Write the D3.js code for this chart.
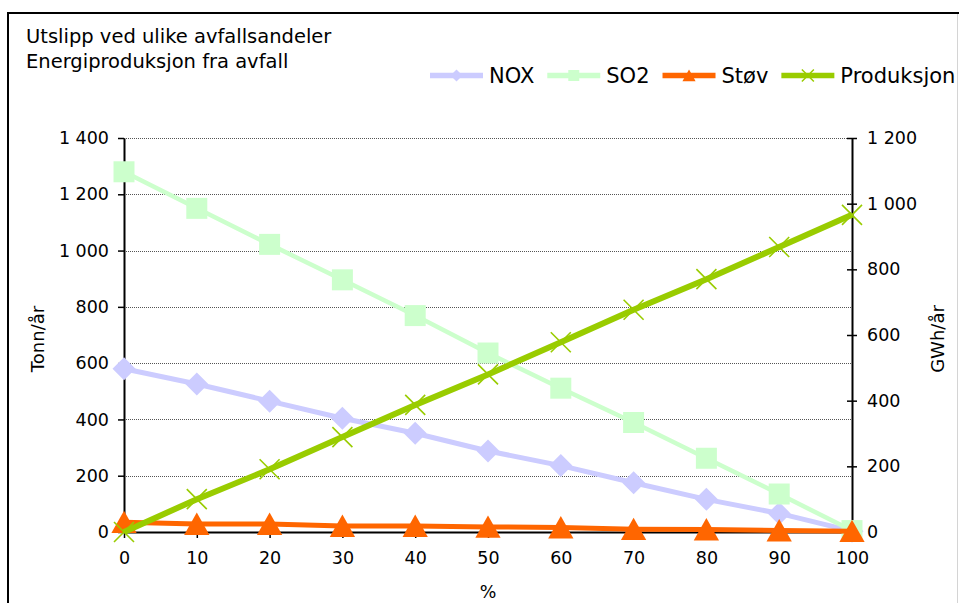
<!DOCTYPE html>
<html>
<head>
<meta charset="utf-8">
<script src="https://cdn.jsdelivr.net/npm/d3@7"></script>
<style>
  html, body { margin: 0; padding: 0; background: #fff; }
  svg { display: block; font-family: "DejaVu Sans", Verdana, sans-serif; }
</style>
</head>
<body>
<svg id="chart" width="959" height="603"></svg>
<script>
// ---- data ----
const categories = [0, 10, 20, 30, 40, 50, 60, 70, 80, 90, 100];
const nox = [580, 526, 465, 404, 351, 288, 236, 175, 116, 66, 3];
const so2 = [1280, 1150, 1022, 896, 769, 636, 511, 389, 262, 135, 5];
const stov = [35, 28, 28, 21, 21, 18, 16, 10, 9, 5, 3];
const produksjon = [0, 100, 191, 289, 387, 480, 578, 677, 770, 868, 966];
const leftTicks = [0, 200, 400, 600, 800, 1000, 1200, 1400];
const rightTicks = [0, 200, 400, 600, 800, 1000, 1200];
const seriesNames = ["NOX", "SO2", "Støv", "Produksjon"];
const titleLines = ["Utslipp ved ulike avfallsandeler", "Energiproduksjon fra avfall"];

// ---- layout ----
const svg = d3.select("#chart");
const plot = { left: 124, right: 852, top: 138, bottom: 532 };
const x = d3.scaleLinear().domain([0, 100]).range([plot.left, plot.right]);
const yL = d3.scaleLinear().domain([0, 1400]).range([plot.bottom, plot.top]);
const yR = d3.scaleLinear().domain([0, 1200]).range([plot.bottom, plot.top]);
const fmt = v => d3.format(",")(v).replace(/,/g, " ");

// outer frame
svg.append("rect").attr("x", 8).attr("y", 13).attr("width", 1000).attr("height", 700)
  .attr("fill", "#fff").attr("stroke", "#000").attr("stroke-width", 2);
svg.append("line").attr("x1", 957.5).attr("x2", 957.5).attr("y1", 14).attr("y2", 603)
  .attr("stroke", "#d4d4d4").attr("stroke-width", 1);

// title
svg.append("g").selectAll("text").data(titleLines).join("text")
  .attr("x", 26).attr("y", (d, i) => 43 + i * 25)
  .attr("font-size", 19.5).attr("fill", "#000").text(d => d);

// gridlines
svg.append("g").selectAll("line").data(leftTicks.filter(t => t > 0)).join("line")
  .attr("x1", plot.left).attr("x2", plot.right)
  .attr("y1", d => Math.round(yL(d)) + 0.5).attr("y2", d => Math.round(yL(d)) + 0.5)
  .attr("stroke", "#555").attr("stroke-width", 1).attr("stroke-dasharray", "1,1");

// axes
const styleAxis = (g, size) => {
  g.selectAll(".domain").attr("stroke", "#000").attr("stroke-width", 2);
  g.selectAll(".tick line").attr("stroke", "#000").attr("stroke-width", 1.5);
  g.selectAll(".tick text").attr("font-size", size).attr("fill", "#000")
    .attr("font-family", "'DejaVu Sans', Verdana, sans-serif");
};
svg.append("g").attr("transform", `translate(0,${plot.bottom})`)
  .call(d3.axisBottom(x).tickValues(categories).tickFormat(d => d).tickSize(6).tickSizeOuter(0).tickPadding(14))
  .call(g => styleAxis(g, 17.5));
svg.append("g").attr("transform", `translate(${plot.left},0)`)
  .call(d3.axisLeft(yL).tickValues(leftTicks).tickFormat(fmt).tickSize(6).tickSizeOuter(0).tickPadding(9))
  .call(g => styleAxis(g, 17.5));
const rAxis = svg.append("g").attr("transform", `translate(${plot.right},0)`)
  .call(d3.axisRight(yR).tickValues(rightTicks).tickFormat(fmt).tickSize(5).tickSizeOuter(0).tickPadding(10))
  .call(g => styleAxis(g, 17.5));
rAxis.selectAll(".tick line").attr("x1", -5);

// axis titles
svg.append("text").attr("transform", `translate(44,${(plot.top + plot.bottom) / 2 + 4}) rotate(-90)`)
  .attr("text-anchor", "middle").attr("font-size", 18).text("Tonn/år");
svg.append("text").attr("transform", `translate(944,${(plot.top + plot.bottom) / 2 + 4}) rotate(-90)`)
  .attr("text-anchor", "middle").attr("font-size", 18).text("GWh/år");
svg.append("text").attr("x", (plot.left + plot.right) / 2).attr("y", 598)
  .attr("text-anchor", "middle").attr("font-size", 17.5).text("%");

// marker shapes
const shapes = {
  diamond: s => `M0,${-s}L${s},0L0,${s}L${-s},0Z`,
  square: s => `M${-s},${-s}H${s}V${s}H${-s}Z`,
  triangle: s => `M0,${-s}L${s * 1.1},${s * 0.95}L${-s * 1.1},${s * 0.95}Z`,
  cross: s => `M${-s},${-s}L${s},${s}M${s},${-s}L${-s},${s}`
};

const series = [
  { name: seriesNames[0], values: nox, y: yL, color: "#ccccff", width: 5, shape: "diamond", size: 11.5, lsize: 6 },
  { name: seriesNames[1], values: so2, y: yL, color: "#ccffcc", width: 4.5, shape: "square", size: 10.5, lsize: 5.5 },
  { name: seriesNames[2], values: stov, y: yL, color: "#ff6600", width: 5, shape: "triangle", size: 11.5, lsize: 6 },
  { name: seriesNames[3], values: produksjon, y: yR, color: "#99cc00", width: 6, shape: "cross", size: 10, lsize: 6 }
];

const line = d3.line();
series.forEach(s => {
  const pts = categories.map((c, i) => [x(c), s.y(s.values[i])]);
  const g = svg.append("g");
  g.append("path").attr("d", line(pts)).attr("fill", "none")
    .attr("stroke", s.color).attr("stroke-width", s.width).attr("stroke-linejoin", "round");
  g.selectAll("path.m").data(pts).join("path").attr("class", "m")
    .attr("transform", d => `translate(${d[0]},${d[1]})`)
    .attr("d", shapes[s.shape](s.size))
    .attr("fill", s.shape === "cross" ? "none" : s.color)
    .attr("stroke", s.color).attr("stroke-width", s.shape === "cross" ? 1.6 : 0);
});

// legend
const legend = svg.append("g");
let lx = 430;
const ly = 75.5;
series.forEach(s => {
  const g = legend.append("g");
  g.append("line").attr("x1", lx).attr("x2", lx + 53).attr("y1", ly).attr("y2", ly)
    .attr("stroke", s.color).attr("stroke-width", 5.5);
  g.append("path").attr("transform", `translate(${lx + 26.5},${ly})`)
    .attr("d", shapes[s.shape](s.lsize))
    .attr("fill", s.shape === "cross" ? "none" : s.color)
    .attr("stroke", s.color).attr("stroke-width", s.shape === "cross" ? 1.5 : 0);
  const t = g.append("text").attr("x", lx + 59).attr("y", ly + 7.5)
    .attr("font-size", 21).attr("fill", "#000").text(s.name);
  lx = lx + 59 + t.node().getComputedTextLength() + 13;
});
</script>
</body>
</html>
